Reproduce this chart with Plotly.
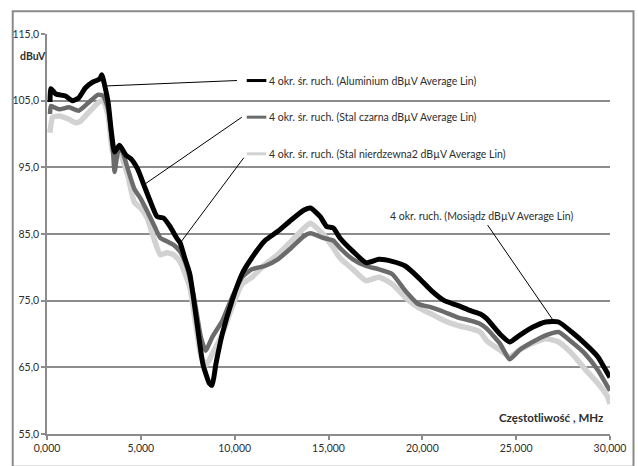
import plotly.graph_objects as go

# ---------------- data (frequency in MHz, level in dBuV) ----------------
alu_f = [0.16, 0.21, 0.47, 0.99, 1.34, 1.69, 2.04, 2.39, 2.82, 2.92, 3.08, 3.26, 3.43, 3.60,
         3.86, 4.21, 4.47, 4.82, 5.17, 5.52, 5.87, 6.21, 6.56, 6.91, 7.09, 7.34, 7.61, 7.95,
         8.30, 8.65, 8.80, 9.00, 9.34, 9.86, 10.39, 10.91, 11.61, 12.30, 13.01, 13.70, 14.04,
         14.56, 14.91, 15.26, 15.61, 16.30, 17.00, 17.69, 18.39, 19.09, 19.78, 20.48, 21.17,
         21.87, 22.57, 23.09, 23.43, 24.13, 24.65, 25.18, 25.87, 26.57, 27.26, 27.96, 28.65,
         29.35, 29.87, 30.00]
alu_v = [104.8, 106.8, 106.0, 105.7, 105.0, 105.4, 106.9, 107.7, 108.3, 108.9, 107.2, 104.7,
         100.3, 97.3, 98.3, 96.8, 96.3, 94.8, 92.3, 89.8, 87.6, 87.4, 86.1, 84.4, 83.7, 81.4,
         79.0, 72.5, 65.6, 62.6, 62.3, 65.5, 70.0, 75.0, 79.0, 81.4, 84.0, 85.4, 87.1, 88.6,
         88.9, 87.6, 86.1, 85.9, 84.4, 82.4, 80.7, 81.2, 80.9, 80.2, 78.5, 76.5, 75.0, 74.3,
         73.5, 73.0, 72.3, 70.0, 68.8, 69.8, 71.0, 71.8, 71.8, 70.3, 68.6, 66.6, 64.1, 63.5]

czarna_f = [0.16, 0.21, 0.64, 1.17, 1.69, 2.21, 2.73, 3.00, 3.26, 3.52, 3.60, 3.78, 3.95, 4.30,
            4.65, 4.99, 5.34, 5.69, 6.04, 6.39, 6.73, 7.08, 7.40, 7.80, 8.20, 8.45, 8.82, 9.34,
            9.86, 10.39, 10.91, 11.61, 12.30, 13.01, 13.70, 14.04, 14.74, 15.26, 15.61, 16.30,
            17.00, 17.69, 18.39, 19.09, 19.78, 20.48, 21.17, 21.87, 22.57, 23.09, 23.43, 24.13,
            24.65, 25.18, 25.87, 26.57, 27.26, 27.96, 28.65, 29.35, 29.87, 30.00]
czarna_v = [103.0, 104.2, 103.7, 104.0, 103.5, 104.7, 105.9, 105.7, 103.7, 97.3, 94.3, 97.3,
            97.8, 94.8, 91.8, 90.3, 88.4, 86.4, 84.4, 83.9, 83.4, 82.4, 80.5, 76.0, 69.5, 67.5,
            69.6, 72.0, 75.5, 78.5, 79.7, 80.2, 81.2, 82.9, 84.7, 85.1, 84.4, 84.0, 82.9, 81.2,
            80.2, 79.7, 79.0, 76.5, 74.5, 74.0, 73.3, 72.5, 72.0, 71.5, 70.8, 68.6, 66.2, 67.6,
            68.8, 69.8, 70.3, 68.8, 67.1, 64.6, 62.1, 61.5]

nierdz_f = [0.16, 0.30, 0.64, 1.17, 1.51, 1.77, 2.21, 2.73, 3.00, 3.26, 3.52, 3.78, 3.95, 4.30,
            4.65, 4.99, 5.34, 5.69, 6.04, 6.39, 6.73, 7.08, 7.61, 7.95, 8.21, 8.48, 8.82, 9.34,
            9.86, 10.39, 10.91, 11.61, 12.30, 13.01, 13.70, 14.04, 14.74, 15.26, 15.61, 16.30,
            17.00, 17.69, 18.39, 19.09, 19.78, 20.48, 21.17, 21.87, 22.57, 23.09, 23.43, 24.13,
            24.65, 25.18, 25.87, 26.57, 27.26, 27.96, 28.65, 29.35, 29.87, 30.00]
nierdz_v = [100.2, 102.5, 102.7, 102.2, 101.7, 101.9, 103.2, 104.7, 105.0, 102.7, 97.3, 97.8,
            96.8, 93.8, 89.8, 88.9, 87.4, 84.4, 81.9, 82.2, 81.9, 80.9, 77.0, 71.0, 66.6, 65.3,
            67.1, 70.0, 74.0, 77.5, 78.5, 80.4, 81.9, 83.9, 85.9, 86.6, 84.9, 82.9, 81.4, 79.7,
            78.0, 78.5, 77.5, 75.5, 74.0, 73.0, 72.0, 71.3, 70.8, 70.3, 69.0, 67.6, 66.6, 67.6,
            68.6, 69.3, 68.8, 67.1, 64.8, 62.6, 60.6, 59.5]

series_names = [
    "4 okr. śr. ruch. (Aluminium dBµV Average Lin)",
    "4 okr. śr. ruch. (Stal czarna dBµV Average Lin)",
    "4 okr. śr. ruch. (Stal nierdzewna2 dBµV Average Lin)",
]
mosiadz_label = "4 okr. ruch. (Mosiądz dBµV Average Lin)"

x_ticks = [0, 5, 10, 15, 20, 25, 30]
y_ticks = [55, 65, 75, 85, 95, 105, 115]

# ---------------- styling ----------------
W, H = 638, 466
L, R, T, B = 44, 19, 34, 28
PW, PH = W - L - R, H - T - B
FONT = "Lato, 'Open Sans', sans-serif"
GRID = "#8c8c8c"
TXT = "#2e2e2e"
C_ALU, C_CZ, C_NI = "#000000", "#6b6b6b", "#d2d2d2"
LBL_SIZE = 10.5


def px(xp):
    return (xp - L) / PW


def py(yp):
    return (H - B - yp) / PH


fig = go.Figure()
fig.add_trace(go.Scatter(x=nierdz_f, y=nierdz_v, mode="lines", name=series_names[2],
                         line=dict(color=C_NI, width=5.5, shape="spline", smoothing=0.5)))
fig.add_trace(go.Scatter(x=czarna_f, y=czarna_v, mode="lines", name=series_names[1],
                         line=dict(color=C_CZ, width=4.5, shape="spline", smoothing=0.5)))
fig.add_trace(go.Scatter(x=alu_f, y=alu_v, mode="lines", name=series_names[0],
                         line=dict(color=C_ALU, width=5, shape="spline", smoothing=0.5)))

shapes = []
annotations = []

# outer chart border (right/bottom clipped by image)
shapes.append(dict(type="rect", xref="paper", yref="paper", x0=px(9), x1=px(W + 5),
                   y0=py(H + 5), y1=py(11), line=dict(color="#8a8a8a", width=2),
                   layer="below"))

# label blocks: (key y px, key colour, label, leader target (data), leader tail px)
labels = [
    (81, C_ALU, series_names[0], (alu_f[10], alu_v[10]), (238, 81)),
    (118, C_CZ, series_names[1], (alu_f[18], alu_v[18] + 0.1), (243, 118)),
    (155, C_NI, series_names[2], (nierdz_f[20] + 0.3, alu_v[23] - 1.0), (245, 159)),
]
for ky, col, txt, (tx, ty), (lx, ly) in labels:
    shapes.append(dict(type="line", xref="paper", yref="paper", x0=px(248), x1=px(268),
                       y0=py(ky), y1=py(ky), line=dict(color=col, width=3)))
    annotations.append(dict(xref="paper", yref="paper", x=px(269), y=py(ky), text=txt,
                            showarrow=False, xanchor="left", yanchor="middle",
                            font=dict(family=FONT, size=LBL_SIZE, color=TXT)))
    # leader line from label to the series
    shapes.append(dict(type="line", xref="x", yref="y", x0=tx, y0=ty,
                       x1=(lx - L) / PW * 30, y1=115 - (ly - T) / PH * 60,
                       line=dict(color="#000000", width=1)))

# Mosiądz label with leader line
annotations.append(dict(xref="paper", yref="paper", x=px(488), y=py(218), text=mosiadz_label,
                        showarrow=False, xanchor="center", yanchor="middle",
                        font=dict(family=FONT, size=LBL_SIZE, color=TXT)))
shapes.append(dict(type="line", xref="x", yref="y", x0=alu_f[62] - 0.3, y0=alu_v[62] + 0.3,
                   x1=(494 - L) / PW * 30, y1=115 - (227 - T) / PH * 60,
                   line=dict(color="#000000", width=1)))

# axis titles
annotations.append(dict(xref="paper", yref="paper", x=px(14), y=py(56), text="<b>dBuV</b>",
                        showarrow=False, xanchor="left", yanchor="middle",
                        font=dict(family=FONT, size=10.5, color=TXT)))
annotations.append(dict(xref="paper", yref="paper", x=px(614), y=py(421),
                        text="<b>Częstotliwość , MHz</b>", showarrow=False,
                        xanchor="right", yanchor="middle",
                        font=dict(family=FONT, size=11.5, color=TXT)))

fig.update_layout(
    width=W, height=H,
    margin=dict(l=L, r=R, t=T, b=B, pad=0),
    paper_bgcolor="white", plot_bgcolor="white",
    showlegend=False,
    separators=", ",
    font=dict(family=FONT, size=10.5, color=TXT),
    shapes=shapes, annotations=annotations,
    xaxis=dict(range=[0, 30], tickvals=x_ticks, tickformat=".3f", showgrid=False,
               zeroline=False, showline=True, linecolor=GRID, linewidth=1.5,
               ticks="outside", ticklen=4, tickcolor=GRID, tickwidth=1.5,
               tickfont=dict(family=FONT, size=10.5, color=TXT)),
    yaxis=dict(range=[55, 115], tickvals=y_ticks, tickformat=".1f", showgrid=True,
               gridcolor=GRID, gridwidth=1.5, zeroline=False, showline=True,
               linecolor=GRID, linewidth=1.5, ticks="outside", ticklen=4,
               tickcolor=GRID, tickwidth=1.5,
               tickfont=dict(family=FONT, size=10.5, color=TXT)),
)

fig.write_html("out.html")
